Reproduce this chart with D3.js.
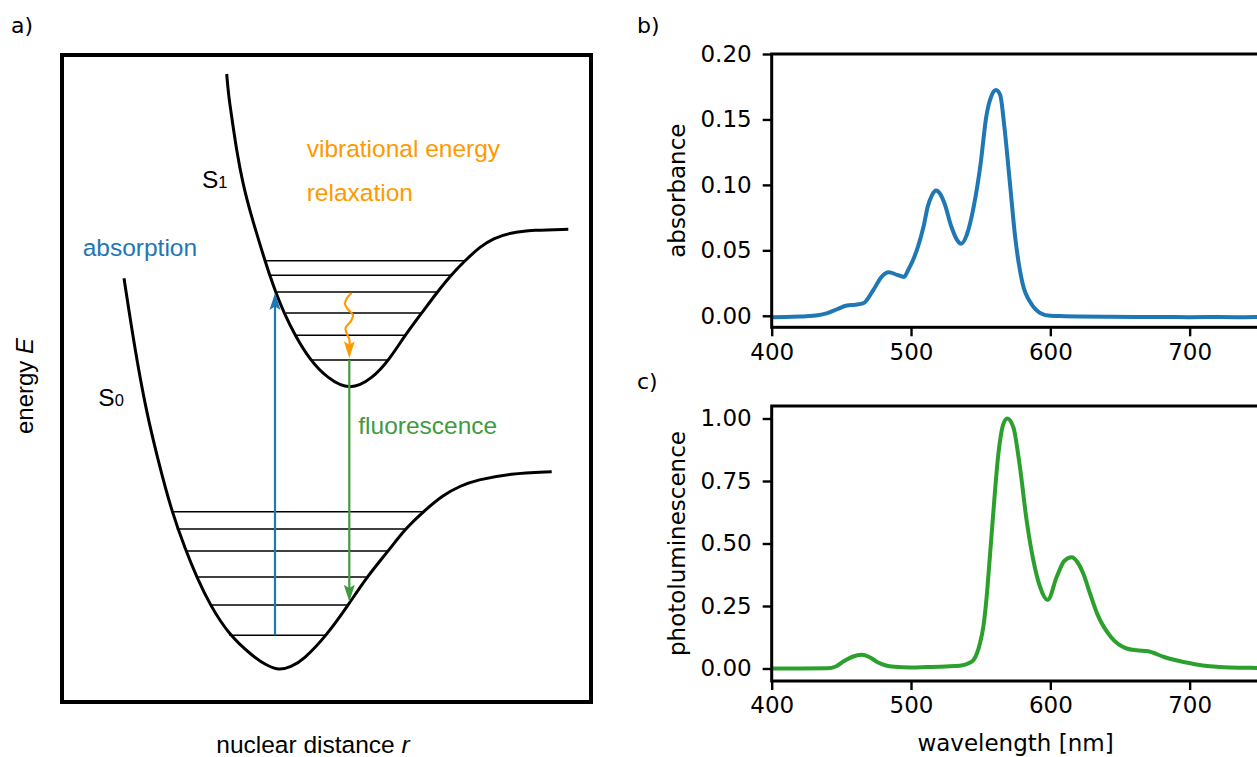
<!DOCTYPE html>
<html>
<head>
	<meta charset="utf-8">
	<title>Absorption and fluorescence</title>
	<script src="https://d3js.org/d3.v7.min.js"></script>
	<style type="text/css">
		body { margin: 0; background: #fff; }
		.mpl text { font-family: "DejaVu Sans", sans-serif; }
		.diag text { font-family: "Liberation Sans", Arial, sans-serif; }
		.axis path { display: none; }
		.axis line { stroke: black; stroke-width: 2.4; }
		.axis text { font-size: 23px; fill: black; }
	</style>
</head>
<body>
	<script type="text/javascript">
		// ---- panel a: potential curves (r, E) ----
		var s1Curve = [[164.7, 628], [166.5, 607], [169.7, 585.3], [174.5, 552], [180.7, 518.7], [189.5, 485],
			[203, 441.3], [208, 426], [214, 409], [222, 389], [233, 366.7], [248, 342], [265, 324], [288, 311],
			[311, 324], [327, 342], [343, 366.7], [359.7, 389], [375.3, 410], [388.7, 426.7], [403, 441.3],
			[418, 455.3], [431.3, 463.7], [448, 469.3], [471.3, 472], [506.3, 472.7]];
		var s0Curve = [[62, 423.7], [73, 352], [84, 292], [96, 242], [109.7, 190.3], [124, 151], [134.7, 125],
			[148, 97], [167.3, 66.7], [191.3, 45.3], [204, 37], [216.3, 31.5], [229, 35], [241.3, 42],
			[264.7, 66.7], [286.3, 97], [304.7, 125], [326.3, 151], [343, 173], [361.3, 190.3], [381, 207],
			[398, 216], [414.7, 222], [448, 228.5], [489.7, 230.3]];
		// vibrational levels: [r start, r end, E]
		var s1Levels = [[203, 403, 441.3], [207, 390, 426.7], [213, 375.5, 410], [224, 359.7, 389], [233, 343, 366.7], [248, 326.3, 342]];
		var s0Levels = [[109.7, 361, 190.3], [114.7, 343, 173], [124, 326, 151], [134.7, 304.7, 125], [148, 286, 97], [167.3, 264.7, 66.7]];
		// transitions: [r, E from, E to]
		var absorptionArrow = [213, 66.7, 409];
		var fluorescenceArrow = [287.3, 342, 100.3];
		var relaxWave = [[289.5, 409], [285, 404], [283, 398], [286, 392.5], [291, 387], [289, 381],
			[283.5, 374], [285, 368], [287.5, 362], [287.3, 354]];
		var relaxTip = [287.3, 343.7];

		// ---- panel b: absorbance ----
		var absWl = [400, 410, 420, 430, 440, 447, 454, 460, 466, 473, 479, 484, 490, 495, 498, 502, 505, 509,
			512, 515, 518, 521, 524, 529, 533, 536, 540, 545, 550, 554, 558, 561, 564, 567, 571, 575, 580,
			586, 593, 600, 610, 620, 640, 660, 680, 700, 720, 740, 750];
		var absVal = [-0.0012, -0.0010, -0.0006, 0.0000, 0.0020, 0.0050, 0.0079, 0.0085, 0.0097, 0.0198, 0.0300,
			0.0333, 0.0313, 0.0297, 0.0351, 0.0440, 0.0529, 0.0682, 0.0834, 0.0920, 0.0957, 0.0930, 0.0860,
			0.0680, 0.0580, 0.0550, 0.0618, 0.0834, 0.1166, 0.1520, 0.1687, 0.1725, 0.1687, 0.1445, 0.1013,
			0.0580, 0.0250, 0.0097, 0.0020, 0.0000, -0.0003, -0.0005, -0.0008, -0.0010, -0.0009, -0.0011,
			-0.0010, -0.0011, -0.0010];

		// ---- panel c: photoluminescence ----
		var plWl = [400, 420, 440, 446, 452, 458, 464.6, 470, 476, 482, 488, 500, 511, 525, 535, 541, 545, 549.5,
			552, 554.3, 556.5, 559, 562.7, 566.3, 569.1, 573.5, 578.2, 583, 587.8, 592.6, 598.1, 604.6, 610,
			615.3, 619.5, 623.7, 628.5, 633.6, 643.5, 654.8, 662, 670.3, 681.6, 691, 701.4, 711, 721.1, 735, 750];
		var plVal = [0, 0, 0.001, 0.008, 0.03, 0.047, 0.0546, 0.046, 0.025, 0.012, 0.007, 0.004, 0.0056, 0.008,
			0.011, 0.02, 0.035, 0.101, 0.17, 0.287, 0.44, 0.619, 0.858, 0.978, 1.0, 0.964, 0.805, 0.592, 0.433,
			0.327, 0.274, 0.367, 0.43, 0.445, 0.425, 0.379, 0.30, 0.2195, 0.126, 0.08, 0.073, 0.069, 0.046,
			0.032, 0.02, 0.011, 0.0064, 0.003, 0.0024];

		var xTicks = [400, 500, 600, 700];
		var absTicks = [0.00, 0.05, 0.10, 0.15, 0.20];
		var plTicks = [0.00, 0.25, 0.50, 0.75, 1.00];

		var width = 1257, height = 757;
		var svg = d3.select("body").append("svg")
			.attr("width", width)
			.attr("height", height);

		// ================= panel a =================
		var ga = svg.append("g").attr("class", "diag");
		var ax = d3.scaleLinear().domain([0, 529]).range([62, 591]);
		var ay = d3.scaleLinear().domain([0, 647]).range([702, 55]);
		var smooth = d3.line()
			.x(function (d) { return ax(d[0]); })
			.y(function (d) { return ay(d[1]); })
			.curve(d3.curveBasis);
		var through = d3.line()
			.x(function (d) { return ax(d[0]); })
			.y(function (d) { return ay(d[1]); })
			.curve(d3.curveCatmullRom.alpha(0.5));

		ga.append("rect")
			.attr("x", ax(0)).attr("y", ay(647))
			.attr("width", ax(529) - ax(0)).attr("height", ay(0) - ay(647))
			.attr("fill", "none").attr("stroke", "black").attr("stroke-width", 4);

		ga.selectAll(".lvl")
			.data(s1Levels.concat(s0Levels))
			.enter().append("line")
			.attr("x1", function (d) { return ax(d[0]); })
			.attr("x2", function (d) { return ax(d[1]); })
			.attr("y1", function (d) { return ay(d[2]); })
			.attr("y2", function (d) { return ay(d[2]); })
			.attr("stroke", "black").attr("stroke-width", 1.6);

		[s1Curve, s0Curve].forEach(function (c) {
			ga.append("path").attr("d", smooth(c))
				.attr("fill", "none").attr("stroke", "black").attr("stroke-width", 3);
		});

		function arrowHead(x, y, dir, color) {
			// dir = -1 points up, +1 points down
			var L = 17, w = 5.5;
			ga.append("path")
				.attr("d", "M" + x + "," + y + "L" + (x - w) + "," + (y - dir * L) +
					"L" + x + "," + (y - dir * L * 0.8) + "L" + (x + w) + "," + (y - dir * L) + "Z")
				.attr("fill", color);
		}

		var blue = "#1f77b4", orange = "#ff9900", green = "#3e9b3e";

		ga.append("line")
			.attr("x1", ax(absorptionArrow[0])).attr("x2", ax(absorptionArrow[0]))
			.attr("y1", ay(absorptionArrow[1])).attr("y2", ay(absorptionArrow[2]) + 10)
			.attr("stroke", blue).attr("stroke-width", 2.2);
		arrowHead(ax(absorptionArrow[0]), ay(absorptionArrow[2]), -1, blue);

		ga.append("line")
			.attr("x1", ax(fluorescenceArrow[0])).attr("x2", ax(fluorescenceArrow[0]))
			.attr("y1", ay(fluorescenceArrow[1])).attr("y2", ay(fluorescenceArrow[2]) - 10)
			.attr("stroke", green).attr("stroke-width", 2.2);
		arrowHead(ax(fluorescenceArrow[0]), ay(fluorescenceArrow[2]), 1, green);

		ga.append("path")
			.attr("d", through(relaxWave))
			.attr("fill", "none").attr("stroke", orange).attr("stroke-width", 2.2);
		arrowHead(ax(relaxTip[0]), ay(relaxTip[1]), 1, orange);

		var fs = 24.5;
		ga.append("text").attr("x", 306.7).attr("y", 156.7).attr("font-size", fs).attr("fill", orange).text("vibrational energy");
		ga.append("text").attr("x", 306.7).attr("y", 200.7).attr("font-size", fs).attr("fill", orange).text("relaxation");
		ga.append("text").attr("x", 82.7).attr("y", 255.7).attr("font-size", fs).attr("fill", blue).text("absorption");
		ga.append("text").attr("x", 358.3).attr("y", 434).attr("font-size", fs).attr("fill", green).text("fluorescence");

		var s1 = ga.append("text").attr("x", 202).attr("y", 188.3).attr("font-size", fs);
		s1.append("tspan").text("S");
		s1.append("tspan").attr("font-size", 16.5).text("1");
		var s0 = ga.append("text").attr("x", 98.3).attr("y", 406).attr("font-size", fs);
		s0.append("tspan").text("S");
		s0.append("tspan").attr("font-size", 16.5).text("0");

		var eLab = ga.append("text")
			.attr("transform", "translate(33,386) rotate(-90)")
			.attr("text-anchor", "middle").attr("font-size", 24);
		eLab.append("tspan").text("energy ");
		eLab.append("tspan").attr("font-style", "italic").text("E");

		var rLab = ga.append("text")
			.attr("x", 313).attr("y", 753)
			.attr("text-anchor", "middle").attr("font-size", 24.5);
		rLab.append("tspan").text("nuclear distance ");
		rLab.append("tspan").attr("font-style", "italic").text("r");

		// ================= panels b, c =================
		var gm = svg.append("g").attr("class", "mpl");
		var x = d3.scaleLinear().domain([400, 750]).range([771.7, 1259.3]);

		function panel(top, bottom, yDomain, ticks, wl, vals, color, yLabel) {
			var y = d3.scaleLinear().domain(yDomain).range([bottom, top]);
			var g = gm.append("g");
			var data = wl.map(function (d, i) { return [d, vals[i]]; });

			g.append("path")
				.attr("d", d3.line()
					.x(function (d) { return x(d[0]); })
					.y(function (d) { return y(d[1]); })
					.curve(d3.curveMonotoneX)(data))
				.attr("fill", "none")
				.attr("stroke", color)
				.attr("stroke-width", 4)
				.attr("stroke-linejoin", "round");

			g.append("g").attr("class", "axis")
				.attr("transform", "translate(" + x.range()[0] + ",0)")
				.call(d3.axisLeft(y).tickValues(ticks).tickFormat(d3.format(".2f")).tickSize(9).tickPadding(11));
			g.append("g").attr("class", "axis")
				.attr("transform", "translate(0," + bottom + ")")
				.call(d3.axisBottom(x).tickValues(xTicks).tickFormat(d3.format("d")).tickSize(9).tickPadding(7));

			g.append("rect")
				.attr("x", x.range()[0]).attr("y", top)
				.attr("width", x.range()[1] - x.range()[0]).attr("height", bottom - top)
				.attr("fill", "none").attr("stroke", "black").attr("stroke-width", 3);

			g.append("text")
				.attr("transform", "translate(685," + ((top + bottom) / 2) + ") rotate(-90)")
				.attr("text-anchor", "middle")
				.attr("font-size", 23)
				.text(yLabel);
			return y;
		}

		panel(54, 327.3, [-0.0088, 0.2], absTicks, absWl, absVal, "#1f77b4", "absorbance");
		panel(406, 681, [-0.05, 1.05], plTicks, plWl, plVal, "#2ca02c", "photoluminescence");

		gm.append("text")
			.attr("x", (x.range()[0] + x.range()[1]) / 2).attr("y", 751)
			.attr("text-anchor", "middle").attr("font-size", 23)
			.text("wavelength [nm]");

		gm.append("text").attr("x", 11).attr("y", 33).attr("font-size", 22).text("a)");
		gm.append("text").attr("x", 637).attr("y", 33).attr("font-size", 22).text("b)");
		gm.append("text").attr("x", 637).attr("y", 389).attr("font-size", 22).text("c)");
	</script>
</body>
</html>
